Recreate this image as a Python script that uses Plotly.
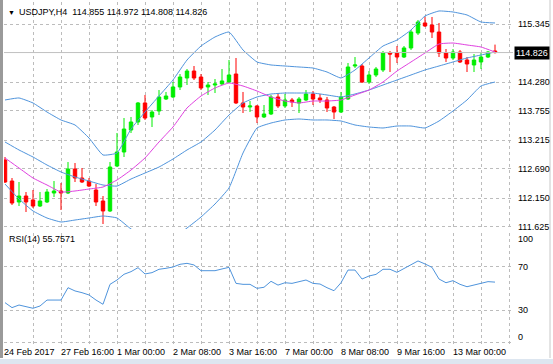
import plotly.graph_objects as go

# ---------------- data ----------------
bar_index = list(range(71))
opens = [112.853, 112.467, 112.082, 112.192, 112.119, 112.008, 112.082, 112.247, 112.284, 112.247,
         112.688, 112.522, 112.467, 112.302, 112.100, 111.917, 112.743, 113.000, 113.404, 113.551,
         113.900, 113.643, 113.753, 113.973, 114.010, 114.194, 114.359, 114.487, 114.377, 114.194,
         114.230, 114.249, 114.285, 114.432, 113.900, 113.826, 113.845, 113.643, 113.698, 114.010,
         113.845, 113.955, 113.900, 113.955, 114.065, 113.992, 113.955, 113.826, 113.734, 113.973,
         114.579, 114.579, 114.285, 114.414, 114.506, 114.818, 114.818, 114.744, 114.910, 115.185,
         115.369, 115.332, 115.203, 114.818, 114.726, 114.836, 114.689, 114.598, 114.653, 114.744,
         114.855]
highs = [112.908, 112.522, 112.449, 112.265, 112.302, 112.265, 112.320, 112.467, 112.431, 112.816,
         112.798, 112.706, 112.522, 112.412, 112.192, 112.816, 113.349, 113.624, 113.643, 113.918,
         114.047, 113.771, 114.138, 114.102, 114.285, 114.432, 114.524, 114.579, 114.432, 114.285,
         114.340, 114.524, 114.689, 114.726, 114.102, 113.936, 113.863, 113.863, 114.047, 114.083,
         114.065, 113.992, 114.010, 114.138, 114.120, 114.065, 114.010, 113.845, 114.102, 114.634,
         114.744, 114.616, 114.487, 114.561, 114.855, 114.855, 114.946, 114.946, 115.240, 115.424,
         115.479, 115.479, 115.369, 114.891, 114.891, 114.873, 114.744, 114.799, 114.836, 114.855,
         114.972]
lows = [112.431, 112.027, 112.008, 111.898, 111.972, 111.990, 112.063, 112.173, 111.935, 112.228,
        112.449, 112.431, 112.357, 112.008, 111.678, 111.898, 112.724, 112.908, 113.349, 113.496,
        113.588, 113.459, 113.679, 113.955, 113.992, 114.138, 114.230, 114.322, 114.138, 114.047,
        114.083, 114.230, 114.267, 113.881, 113.716, 113.734, 113.532, 113.624, 113.679, 113.808,
        113.808, 113.826, 113.716, 113.936, 113.863, 113.900, 113.734, 113.606, 113.716, 113.955,
        114.542, 114.267, 114.249, 114.377, 114.469, 114.469, 114.634, 114.726, 114.873, 115.148,
        115.295, 115.093, 114.744, 114.653, 114.689, 114.634, 114.469, 114.469, 114.524, 114.726,
        114.808]
closes = [112.449, 112.063, 112.192, 112.082, 112.008, 112.100, 112.265, 112.284, 112.247, 112.688,
          112.522, 112.449, 112.375, 112.082, 111.917, 112.724, 113.000, 113.422, 113.551, 113.900,
          113.624, 113.734, 114.010, 114.028, 114.194, 114.377, 114.487, 114.359, 114.175, 114.230,
          114.249, 114.304, 114.414, 113.900, 113.826, 113.845, 113.643, 113.698, 114.010, 113.845,
          113.955, 113.918, 113.973, 114.065, 113.973, 113.955, 113.808, 113.734, 114.010, 114.561,
          114.598, 114.285, 114.414, 114.524, 114.818, 114.799, 114.744, 114.910, 115.203, 115.387,
          115.314, 115.203, 114.818, 114.726, 114.836, 114.653, 114.616, 114.689, 114.744, 114.836,
          114.826]

band_index = list(range(0, 71, 2))
upper_band = [113.955, 113.992, 113.900, 113.734, 113.588, 113.496, 113.257, 112.945, 112.982, 113.422,
              113.734, 114.028, 114.322, 114.689, 114.946, 115.112, 115.203, 114.873, 114.653, 114.598,
              114.579, 114.561, 114.542, 114.469, 114.359, 114.506, 114.726, 114.946, 115.056, 115.240,
              115.497, 115.589, 115.571, 115.516, 115.387, 115.369]
middle_band = [113.184, 113.037, 112.908, 112.761, 112.633, 112.541, 112.467, 112.394, 112.375, 112.504,
               112.614, 112.724, 112.871, 113.037, 113.184, 113.404, 113.679, 113.900, 114.010, 114.065,
               114.083, 114.083, 114.083, 114.047, 114.010, 114.065, 114.138, 114.230, 114.322, 114.414,
               114.506, 114.579, 114.653, 114.726, 114.781, 114.836]
pink_ma = [112.890, 112.706, 112.522, 112.394, 112.265, 112.284, 112.320, 112.357, 112.486, 112.669,
           112.890, 113.184, 113.459, 113.808, 114.028, 114.175, 114.267, 114.212, 114.120, 114.010,
           113.936, 113.900, 113.936, 113.936, 113.955, 114.047, 114.138, 114.285, 114.487, 114.653,
           114.818, 114.983, 115.001, 114.965, 114.928, 114.836]
lower_band = [112.412, 112.137, 111.917, 111.788, 111.715, 111.751, 111.788, 111.825, 111.788, 111.586,
              111.440, 111.366, 111.421, 111.604, 111.806, 112.045, 112.339, 112.982, 113.441, 113.532,
              113.588, 113.606, 113.588, 113.588, 113.569, 113.496, 113.459, 113.441, 113.477, 113.477,
              113.441, 113.569, 113.753, 113.955, 114.212, 114.285]

rsi_values = [36.8, 32.2, 34.6, 33.1, 31.6, 33.7, 39.2, 39.2, 39.2, 50.6,
              47.6, 46.0, 43.9, 39.2, 35.3, 53.7, 57.7, 63.0, 65.4, 69.1,
              63.3, 64.5, 67.6, 68.5, 69.7, 72.2, 73.1, 71.6, 66.3, 66.3,
              66.3, 67.9, 69.4, 54.6, 53.7, 53.7, 50.0, 51.0, 56.5, 53.0,
              55.2, 54.6, 56.2, 57.7, 54.6, 54.0, 50.6, 47.8, 55.2, 66.9,
              66.9, 58.6, 61.4, 62.9, 67.6, 67.6, 64.8, 68.5, 72.2, 75.3,
              72.5, 69.4, 58.6, 55.2, 57.1, 53.7, 51.5, 53.1, 54.6, 56.2,
              55.76]

price_ticks = [115.345, 114.280, 113.755, 113.215, 112.690, 112.150, 111.625]
last_price = 114.826
rsi_mid_ticks = [70, 30]
rsi_top_label = "100"
rsi_bottom_label = "0"
rsi_grid = [70, 30, 0]
grid_bars = list(range(4, 73, 4))
time_tick_bars = [0, 8, 16, 24, 32, 40, 48, 56, 64]
time_tick_labels = ["24 Feb 2017", "27 Feb 16:00", "1 Mar 00:00", "2 Mar 08:00", "3 Mar 16:00",
                    "7 Mar 00:00", "8 Mar 08:00", "9 Mar 16:00", "13 Mar 00:00"]
title_text = "USDJPY,H4  114.855 114.972 114.808 114.826"
rsi_title = "RSI(14) 55.7571"

# ---------------- styling / geometry ----------------
W, H = 553, 364
FONT = "Liberation Sans"
GRID = "#bcbcbc"
BAND = "#4f94dc"
PINK = "#e040e0"

def px_x(p):
    return p / W

def px_y(p):
    return (H - p) / H

fig = go.Figure()

fig.add_trace(go.Candlestick(
    x=bar_index, open=opens, high=highs, low=lows, close=closes,
    increasing=dict(line=dict(color="#00ee00", width=1), fillcolor="#00ee00"),
    decreasing=dict(line=dict(color="#ff0000", width=1), fillcolor="#ff0000"),
    whiskerwidth=0, xaxis="x", yaxis="y", showlegend=False, hoverinfo="skip"))

for series, col in [(upper_band, BAND), (middle_band, BAND), (lower_band, BAND), (pink_ma, PINK)]:
    fig.add_trace(go.Scatter(x=band_index, y=series, mode="lines",
                             line=dict(color=col, width=1, shape="spline", smoothing=0.4),
                             xaxis="x", yaxis="y", showlegend=False, hoverinfo="skip"))

fig.add_trace(go.Scatter(x=bar_index, y=rsi_values, mode="lines",
                         line=dict(color="#4f94dc", width=1),
                         xaxis="x2", yaxis="y2", showlegend=False, hoverinfo="skip"))

# x mapping: bar i at pixel 5 + 7 i, plot area from pixel 4 to 511
x0_px, x1_px = 4, 511
xr = [(x0_px - 5) / 7, (x1_px - 5) / 7]
# main price panel from pixel 2 to 229
p_top, p_bot = 2, 229
def price_at(py):
    return 115.791 - 0.018362 * py
# rsi panel from pixel 233 to 344
r_top, r_bot = 233, 344
def rsi_at(py):
    return (342.5 - py) / 1.083

axis_common = dict(showline=False, zeroline=False, showticklabels=False, ticks="",
                   showgrid=True, gridcolor=GRID, griddash="3px,3px", gridwidth=1)

fig.update_layout(
    width=W, height=H, margin=dict(l=0, r=0, t=0, b=0),
    paper_bgcolor="white", plot_bgcolor="white", showlegend=False, hovermode=False,
    font=dict(family=FONT, size=9, color="black"),
    xaxis=dict(domain=[px_x(x0_px), px_x(x1_px)], range=xr, tickvals=grid_bars,
               rangeslider=dict(visible=False), anchor="y", **axis_common),
    yaxis=dict(domain=[px_y(p_bot), px_y(p_top)], range=[price_at(p_bot), price_at(p_top)],
               tickvals=price_ticks, anchor="x", **axis_common),
    xaxis2=dict(domain=[px_x(x0_px), px_x(x1_px)], range=xr, tickvals=grid_bars,
                anchor="y2", matches="x", **axis_common),
    yaxis2=dict(domain=[px_y(r_bot), px_y(r_top)], range=[rsi_at(r_bot), rsi_at(r_top)],
                tickvals=rsi_grid, anchor="x2", **axis_common),
)

shapes = []
# current price line
shapes.append(dict(type="line", xref="paper", yref="y", x0=px_x(x0_px), x1=px_x(513),
                   y0=last_price, y1=last_price, line=dict(color="#c0c0c0", width=1)))
# left border
shapes.append(dict(type="rect", xref="paper", yref="paper", x0=0, x1=px_x(3),
                   y0=px_y(358), y1=1, line=dict(width=0), fillcolor="#9a9a9a"))
# right window edge
shapes.append(dict(type="line", xref="paper", yref="paper", x0=px_x(550), x1=px_x(550),
                   y0=px_y(358), y1=1, line=dict(color="#c8c8c8", width=1)))
# bottom strip
shapes.append(dict(type="rect", xref="paper", yref="paper", x0=0, x1=1,
                   y0=0, y1=px_y(359), line=dict(width=0), fillcolor="#dde6f0"))
fig.update_layout(shapes=shapes)

ann = []
ann.append(dict(text="\u25bc", xref="paper", yref="paper", x=px_x(6), y=px_y(12.5),
                xanchor="left", yanchor="middle", showarrow=False, font=dict(size=7)))
ann.append(dict(text=title_text, xref="paper", yref="paper", x=px_x(17), y=px_y(12.5),
                xanchor="left", yanchor="middle", showarrow=False))
for p in price_ticks:
    ann.append(dict(text=f"{p:.3f}", xref="paper", yref="y", x=px_x(516), y=p,
                    xanchor="left", yanchor="middle", showarrow=False))
ann.append(dict(text=f"{last_price:.3f}", xref="paper", yref="y", x=px_x(514), y=last_price,
                xanchor="left", yanchor="middle", showarrow=False, bgcolor="black",
                font=dict(color="white"), borderpad=1))
for v in rsi_mid_ticks:
    ann.append(dict(text=str(v), xref="paper", yref="y2", x=px_x(516), y=v,
                    xanchor="left", yanchor="middle", showarrow=False))
ann.append(dict(text=rsi_top_label, xref="paper", yref="paper", x=px_x(516), y=px_y(239),
                xanchor="left", yanchor="middle", showarrow=False))
ann.append(dict(text=rsi_bottom_label, xref="paper", yref="paper", x=px_x(516), y=px_y(337),
                xanchor="left", yanchor="middle", showarrow=False))
ann.append(dict(text=rsi_title, xref="paper", yref="paper", x=px_x(7), y=px_y(239),
                xanchor="left", yanchor="middle", showarrow=False))
for b, lab in zip(time_tick_bars, time_tick_labels):
    ann.append(dict(text=lab, xref="x2", yref="paper", x=b, y=px_y(352), xshift=-2 if b else -3,
                    xanchor="left", yanchor="middle", showarrow=False))
fig.update_layout(annotations=ann)

fig.write_html("out.html", config={"displayModeBar": False, "staticPlot": True},
               post_script="document.body.style.margin='0px';document.body.style.overflow='hidden';")
